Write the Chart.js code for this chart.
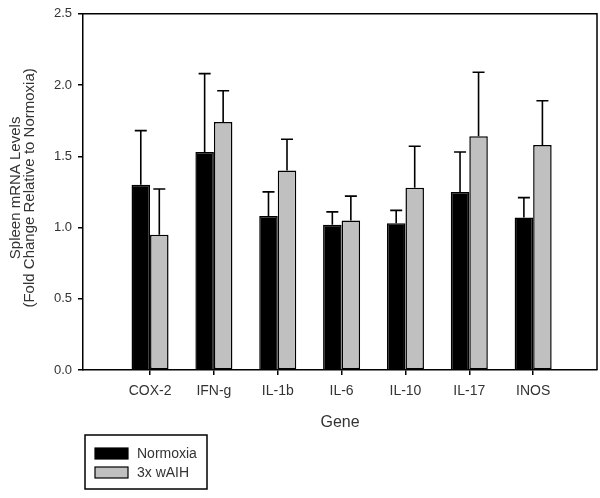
<!DOCTYPE html>
<html>
<head>
<meta charset="utf-8">
<title>Spleen mRNA Levels</title>
<script src="https://cdn.jsdelivr.net/npm/chart.js"></script>
<style>
    body { margin: 0; background: #fff; }
    #wrap { width: 600px; height: 498px; }
</style>
</head>
<body>
<div id="wrap"><canvas id="chart1" width="600" height="498"></canvas></div>
<script>
// data
let genes = ['COX-2', 'IFN-g', 'IL-1b', 'IL-6', 'IL-10', 'IL-17', 'INOS']
let normoxia = [1.30, 1.53, 1.08, 1.02, 1.03, 1.25, 1.07]
let normoxiaErr = [0.38, 0.55, 0.17, 0.09, 0.09, 0.28, 0.14]
let waih = [0.95, 1.74, 1.40, 1.05, 1.28, 1.64, 1.58]
let waihErr = [0.32, 0.22, 0.22, 0.17, 0.29, 0.45, 0.31]
let yTicks = [0, 0.5, 1.0, 1.5, 2.0, 2.5]
let seriesNames = ['Normoxia', '3x wAIH']

let fontFamily = "'Liberation Sans', Arial, sans-serif"
let textColor = '#333'

window.onload = function() {

    let canvas1 = document.getElementById("chart1")

    // bars sit on a numeric x axis so the gene slots can be spaced like the original
    function toPoints(values) {
        return values.map(function(v, i) { return { x: i + 1, y: v } })
    }

    // upward error bars with a cap
    let errorBars = {
        id: 'errorBars',
        afterDatasetsDraw: function(chart) {
            let ctx = chart.ctx
            let yScale = chart.scales.y
            let errs = [normoxiaErr, waihErr]
            ctx.save()
            ctx.strokeStyle = '#000'
            ctx.lineWidth = 1.6
            chart.data.datasets.forEach(function(ds, i) {
                let meta = chart.getDatasetMeta(i)
                meta.data.forEach(function(bar, j) {
                    let top = yScale.getPixelForValue(ds.data[j].y + errs[i][j])
                    ctx.beginPath()
                    ctx.moveTo(bar.x, bar.y)
                    ctx.lineTo(bar.x, top)
                    ctx.moveTo(bar.x - 6, top)
                    ctx.lineTo(bar.x + 6, top)
                    ctx.stroke()
                })
            })
            ctx.restore()
        }
    }

    // top / right frame, y title, boxed legend
    let extras = {
        id: 'extras',
        afterDraw: function(chart) {
            let ctx = chart.ctx
            let a = chart.chartArea
            ctx.save()
            ctx.strokeStyle = '#000'
            ctx.lineWidth = 1.5
            ctx.beginPath()
            ctx.moveTo(a.left, a.top)
            ctx.lineTo(a.right, a.top)
            ctx.lineTo(a.right, a.bottom)
            ctx.stroke()

            // y axis title, two lines
            ctx.fillStyle = textColor
            ctx.font = '15px ' + fontFamily
            ctx.textAlign = 'center'
            ctx.textBaseline = 'middle'
            ctx.save()
            ctx.translate(16, (a.top + a.bottom) / 2 - 4)
            ctx.rotate(-Math.PI / 2)
            ctx.fillText('Spleen mRNA Levels', 0, 0)
            ctx.fillText('(Fold Change Relative to Normoxia)', 0, 14)
            ctx.restore()

            // legend
            ctx.lineWidth = 1.5
            ctx.strokeRect(85, 435, 122, 54)
            let colors = ['#000', '#c0c0c0']
            let rows = [448, 467]
            ctx.textAlign = 'left'
            ctx.font = '14px ' + fontFamily
            for (let i = 0; i < 2; i++) {
                ctx.fillStyle = colors[i]
                ctx.fillRect(95, rows[i], 33, 11)
                ctx.lineWidth = 1.2
                ctx.strokeRect(95, rows[i], 33, 11)
                ctx.fillStyle = textColor
                ctx.fillText(seriesNames[i], 137, rows[i] + 6)
            }
            ctx.restore()
        }
    }

    let chart = new Chart(canvas1, {
        type: 'bar',
        data: {
            datasets: [{
                label: seriesNames[0],
                data: toPoints(normoxia),
                backgroundColor: '#000',
                borderColor: '#000',
                borderWidth: 1.5,
                categoryPercentage: 0.58,
                barPercentage: 1.0
            }, {
                label: seriesNames[1],
                data: toPoints(waih),
                backgroundColor: '#c0c0c0',
                borderColor: '#000',
                borderWidth: 1.5,
                borderSkipped: false,
                categoryPercentage: 0.58,
                barPercentage: 1.0
            }]
        },
        options: {
            responsive: false,
            animation: false,
            layout: { padding: { top: 12, right: 3, left: 0, bottom: 0 } },
            plugins: {
                legend: { display: false },
                tooltip: { enabled: false }
            },
            scales: {
                x: {
                    type: 'linear',
                    offset: false,
                    min: -0.05,
                    max: 8,
                    afterBuildTicks: function(scale) {
                        scale.ticks = genes.map(function(g, i) { return { value: i + 1 } })
                    },
                    afterFit: function(scale) { scale.height = 128 },
                    grid: { offset: false, drawOnChartArea: false, drawTicks: true, tickLength: 5, color: '#000', lineWidth: 1.5 },
                    border: { display: true, color: '#000', width: 1.5 },
                    ticks: {
                        padding: 8,
                        color: textColor,
                        font: { family: fontFamily, size: 14 },
                        maxRotation: 0,
                        autoSkip: false,
                        callback: function(value) { return genes[value - 1] }
                    },
                    title: {
                        display: true,
                        text: 'Gene',
                        color: textColor,
                        font: { family: fontFamily, size: 16 },
                        padding: { top: 0, bottom: 66 }
                    }
                },
                y: {
                    min: 0,
                    max: 2.5,
                    afterBuildTicks: function(scale) {
                        scale.ticks = yTicks.map(function(v) { return { value: v } })
                    },
                    afterFit: function(scale) { scale.width = 83 },
                    grid: { drawOnChartArea: false, drawTicks: true, tickLength: 5, color: '#000', lineWidth: 1.5 },
                    border: { display: true, color: '#000', width: 1.5 },
                    ticks: {
                        padding: 6,
                        color: textColor,
                        font: { family: fontFamily, size: 13 },
                        callback: function(value) { return value.toFixed(1) }
                    }
                }
            }
        },
        plugins: [errorBars, extras]
    })
}
</script>
</body>
</html>
